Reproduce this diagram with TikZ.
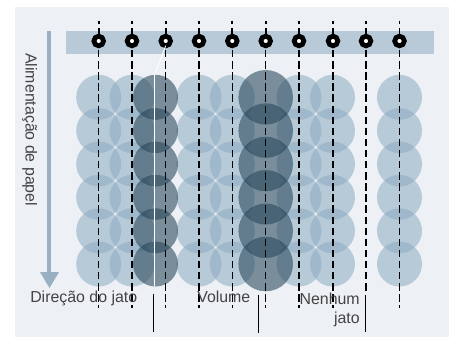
\documentclass[tikz,border=0pt]{standalone}
\usepackage{fontspec}
\setmainfont{Liberation Sans}
\definecolor{pagebg}{HTML}{EDF0F5}
\definecolor{barc}{HTML}{B8CAD8}
\definecolor{dropc}{HTML}{8CABC1}
\definecolor{darkc}{HTML}{274759}
\definecolor{arrowc}{HTML}{98B0C2}
\definecolor{textc}{HTML}{444444}
\newlength{\pxu}\setlength{\pxu}{0.75pt}
\tikzset{
  x=0.75pt,y=-0.75pt,
  lightdrop/.style={circle,inner sep=0pt,outer sep=0pt,minimum size=45\pxu,fill=dropc,fill opacity=.55,draw=none},
  smalldark/.style={circle,inner sep=0pt,outer sep=0pt,minimum size=45\pxu,fill=darkc,fill opacity=.58,draw=none},
  bigdark/.style={circle,inner sep=0pt,outer sep=0pt,minimum size=54.6\pxu,fill=darkc,fill opacity=.58,draw=none},
  nozzle/.style={circle,inner sep=0pt,outer sep=0pt,minimum size=9.6\pxu,draw=black,line width=4.8\pxu,fill=white},
  jetline/.style={black,line width=1.5\pxu,dash pattern=on 7.4\pxu off 3.7\pxu},
  jetsolid/.style={black,line width=1.8\pxu},
  leader/.style={black,line width=.8\pxu},
  label/.style={inner sep=0pt,text=textc,font=\fontsize{15.9\pxu}{18\pxu}\selectfont},
}
\begin{document}
\begin{tikzpicture}
\useasboundingbox (0,0) rectangle (456,337);
\fill[white] (0,0) rectangle (456,337);
\fill[pagebg] (15,7) rectangle (449,337);
\fill[barc] (66,31) rectangle (434,54);
% drops
\foreach \cx in {98.7,132,199,232.3,299,332.5,399.5}
  \foreach \cy in {97.3,130.6,164,197.3,230.8,264}
    \node[lightdrop] at (\cx,\cy) {};
\foreach \cy in {97.3,130.6,164,197.3,230.8,264}
  \node[smalldark] at (155.5,\cy) {};
\foreach \cy in {97.3,130.6,164,197.3,230.8,264}
  \node[bigdark] at (265.7,\cy) {};
% arrow
\coordinate (feedA) at (49,31);
\coordinate (feedB) at (49,273);
\draw[arrowc,line width=4\pxu] (feedA) -- (feedB);
\fill[arrowc] (40,272) -- (59,272) -- (49.5,288) -- cycle;
% jets
\foreach \i/\x/\e in {1/98.7/308,2/132/308,3/165.7/308,4/199/308,5/232.3/308,6/265.7/308,7/299/308,8/333/308,9/366/293,10/399.5/308}{
  \coordinate (top\i) at (\x,20.5);
  \coordinate (mid\i) at (\x,24);
  \coordinate (sol\i) at (\x,28);
  \coordinate (low\i) at (\x,50);
  \coordinate (end\i) at (\x,\e);
  \node[nozzle] (n\i) at (\x,41) {};
  \draw[jetsolid] (top\i) -- (mid\i);
  \draw[jetsolid] (sol\i) -- (n\i.north);
  \draw[jetline] (low\i) -- (end\i);
}
% deflected jet
\coordinate (devA) at (154.5,75);
\coordinate (devB) at (154.5,286);
\draw[white,line width=.9\pxu] (n3.south) -- (devA) -- (devB);
% labels
\node[label,rotate=-90,anchor=base west] (feed) at (25.5,53) {Alimentação de papel};
\node[label,anchor=base west] (dir) at (30,302) {Direção do jato};
\node[label,anchor=base west] (vol) at (197,302) {Volume};
\node[label,anchor=base east] (non) at (360,304) {Nenhum};
\node[label,anchor=base east] (jat) at (360,323) {jato};
% leaders
\coordinate (l1a) at (153.5,294); \coordinate (l1b) at (153.5,332);
\coordinate (l2a) at (258.3,295); \coordinate (l2b) at (258.3,333);
\coordinate (l3a) at (365.3,295); \coordinate (l3b) at (365.3,332);
\draw[leader] (l1a) -- (l1b);
\draw[leader] (l2a) -- (l2b);
\draw[leader] (l3a) -- (l3b);
\end{tikzpicture}
\end{document}
